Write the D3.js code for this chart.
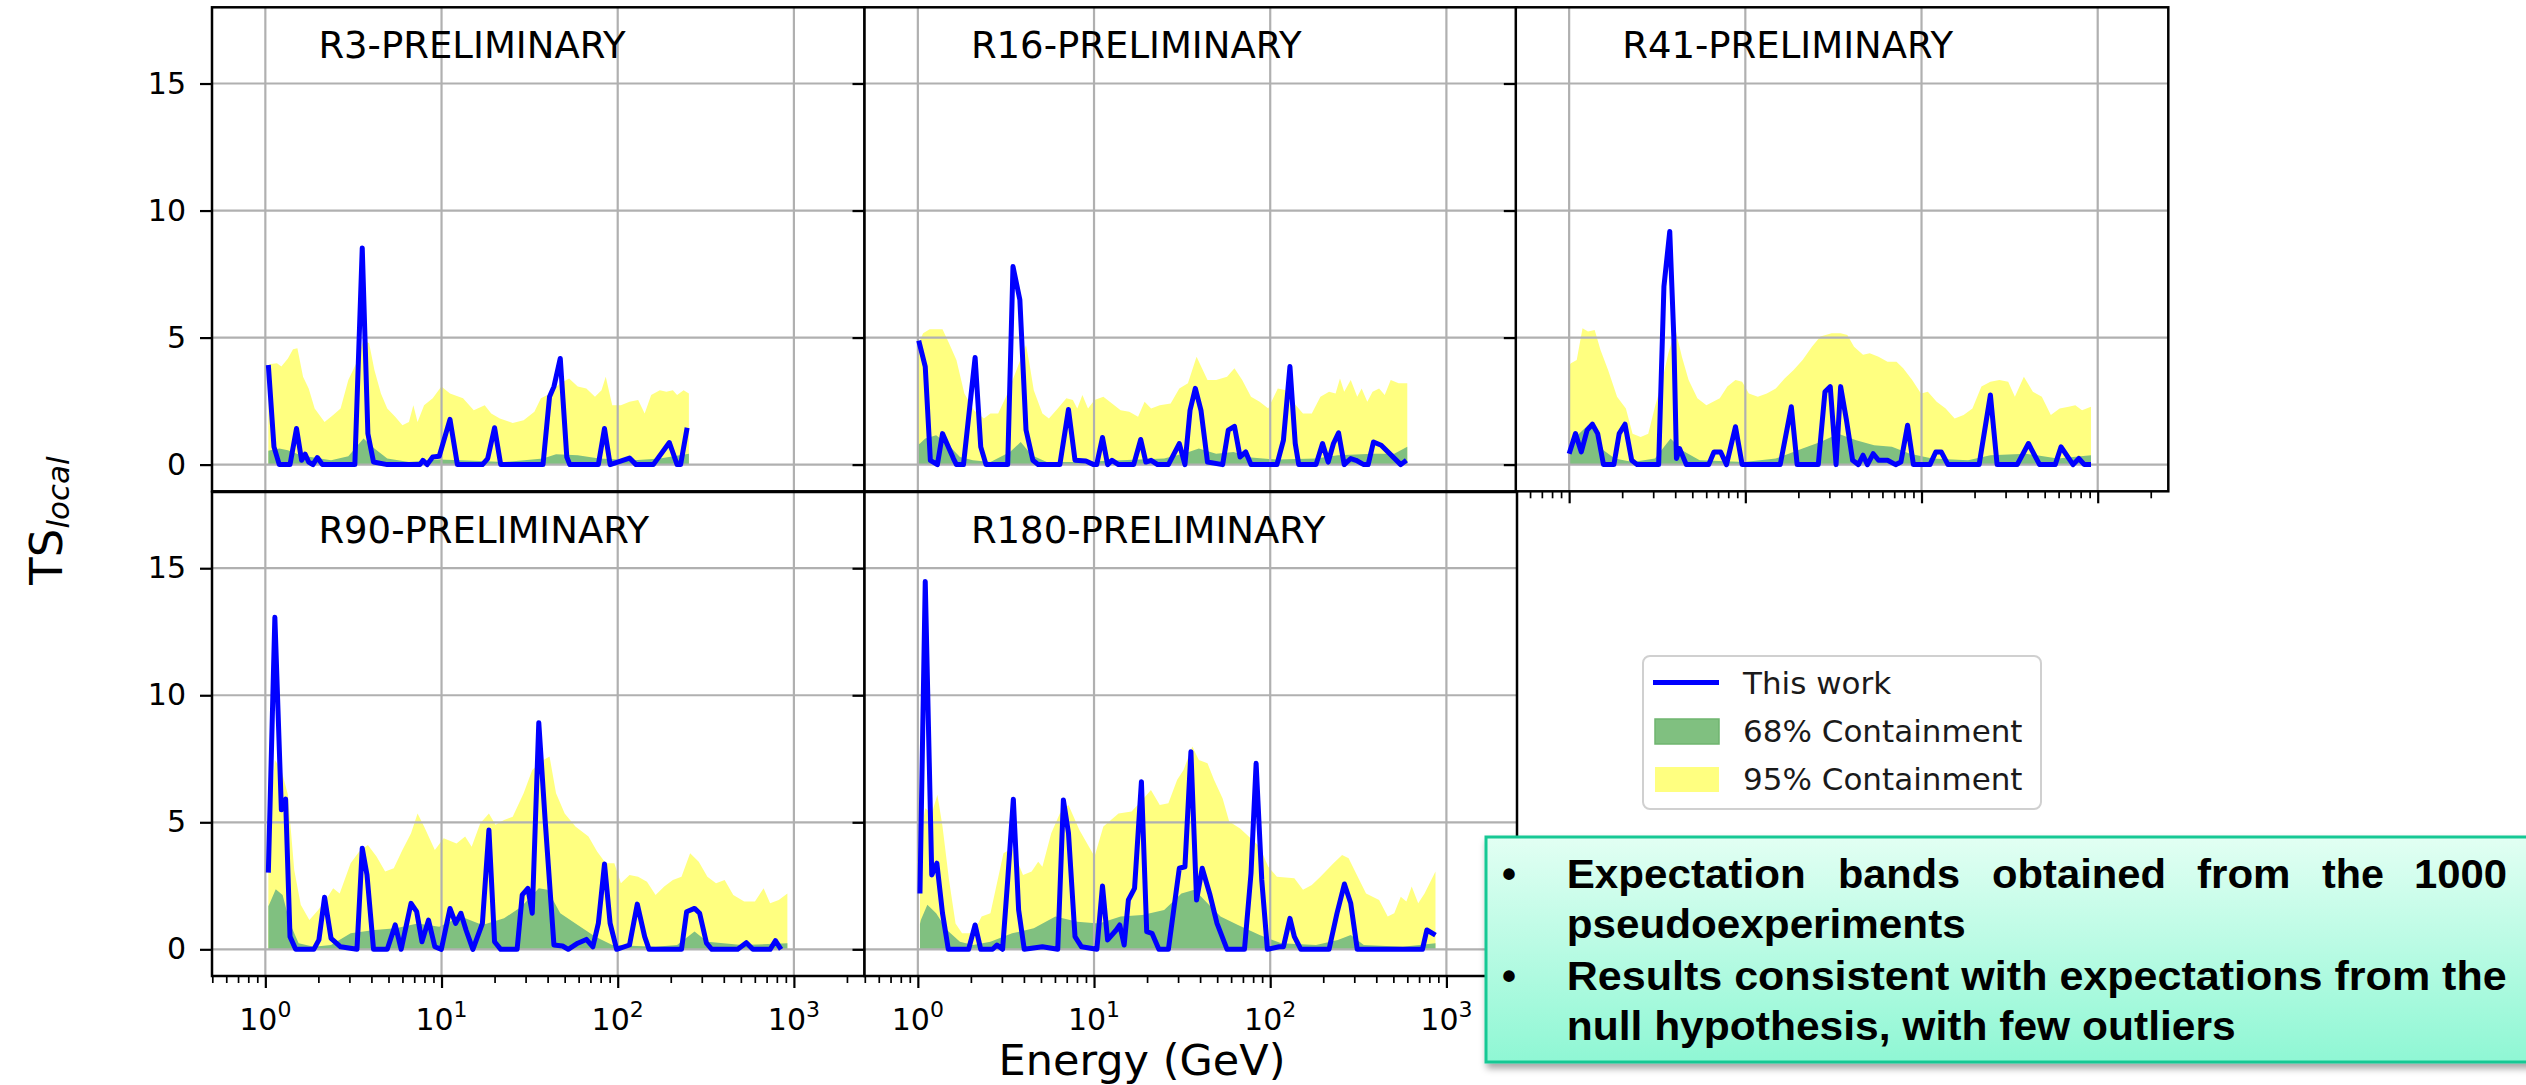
<!DOCTYPE html>
<html><head><meta charset="utf-8">
<script src="https://cdn.jsdelivr.net/npm/d3@7"></script>
<style>body{margin:0;background:#fff;}svg{display:block;}</style>
</head><body>
<svg id="chart" width="2526" height="1085"></svg>
<script>
// ---------------- DATA: [log10(E / GeV), TS_local] ----------------
const R3_ts = [[0.017,3.92],[0.049,0.70],[0.079,0],[0.140,0],[0.177,1.42],[0.206,0.17],[0.226,0.41],[0.246,0.1],[0.270,0],[0.295,0.28],[0.324,0],[0.508,0],[0.550,8.53],[0.582,1.22],[0.614,0.1],[0.692,0],[0.877,0],[0.894,0.17],[0.918,0],[0.950,0.3],[0.987,0.33],[1.048,1.78],[1.090,0],[1.232,0],[1.262,0.24],[1.301,1.45],[1.336,0],[1.576,0],[1.613,2.67],[1.638,3.07],[1.674,4.18],[1.711,0.3],[1.728,0],[1.890,0],[1.925,1.42],[1.957,0],[2.067,0.26],[2.104,0],[2.202,0],[2.293,0.87],[2.337,0],[2.357,0],[2.394,1.45]];
const R3_c95 = [[0.017,3.92],[0.029,3.96],[0.066,3.99],[0.091,3.86],[0.128,4.18],[0.157,4.54],[0.182,4.58],[0.214,3.46],[0.246,3.0],[0.28,2.21],[0.336,1.68],[0.385,1.95],[0.427,2.21],[0.471,3.33],[0.516,3.99],[0.557,4.91],[0.589,4.78],[0.619,3.72],[0.656,2.8],[0.692,2.21],[0.737,1.88],[0.778,1.55],[0.815,1.68],[0.84,2.34],[0.864,1.68],[0.901,2.34],[0.95,2.61],[0.999,3.07],[1.048,2.8],[1.122,2.61],[1.183,2.14],[1.245,2.34],[1.282,2.01],[1.331,1.82],[1.404,1.64],[1.466,1.75],[1.527,2.08],[1.564,2.61],[1.601,2.74],[1.674,3.2],[1.724,3.39],[1.773,3.07],[1.822,3.0],[1.871,2.67],[1.908,2.93],[1.932,3.46],[1.969,2.34],[2.018,2.34],[2.067,2.47],[2.116,2.54],[2.153,2.01],[2.19,2.74],[2.239,2.93],[2.276,2.87],[2.313,2.93],[2.337,2.74],[2.374,2.93],[2.404,2.8]];
const R3_c68 = [[0.017,0.55],[0.029,0.57],[0.079,0.63],[0.128,0.57],[0.201,0.37],[0.275,0.28],[0.373,0.17],[0.471,0.33],[0.557,1.03],[0.619,0.63],[0.692,0.24],[0.815,0.1],[0.987,0.2],[1.11,0.17],[1.355,0.1],[1.576,0.24],[1.65,0.41],[1.773,0.37],[1.895,0.24],[2.092,0.17],[2.239,0.24],[2.404,0.43]];

const R16_ts = [[0.005,4.88],[0.042,3.86],[0.071,0.17],[0.111,0],[0.140,1.22],[0.202,0.24],[0.219,0],[0.259,0],[0.325,4.22],[0.357,0.7],[0.387,0],[0.510,0],[0.540,7.8],[0.579,6.49],[0.614,1.36],[0.653,0.17],[0.683,0],[0.806,0],[0.855,2.17],[0.892,0.17],[0.954,0.14],[0.998,0],[1.015,0],[1.048,1.07],[1.077,0],[1.102,0.17],[1.139,0],[1.225,0],[1.265,0.99],[1.294,0.1],[1.324,0.17],[1.361,0],[1.422,0],[1.484,0.83],[1.516,0],[1.545,2.14],[1.575,3.0],[1.607,2.14],[1.644,0.1],[1.730,0],[1.762,1.36],[1.797,1.51],[1.829,0.3],[1.861,0.5],[1.891,0],[2.038,0],[2.075,0.96],[2.112,3.86],[2.142,0.83],[2.162,0],[2.260,0],[2.297,0.83],[2.329,0.1],[2.359,0.83],[2.388,1.25],[2.420,0],[2.457,0.24],[2.487,0.17],[2.531,0],[2.556,0],[2.586,0.89],[2.630,0.76],[2.741,0],[2.773,0.17]];
const R16_c95 = [[0.005,4.78],[0.03,5.17],[0.067,5.33],[0.14,5.33],[0.177,4.78],[0.219,4.12],[0.264,2.8],[0.318,2.14],[0.375,1.82],[0.412,2.01],[0.456,2.01],[0.505,2.74],[0.56,3.72],[0.614,4.71],[0.633,3.99],[0.658,2.93],[0.707,2.01],[0.744,1.82],[0.794,2.21],[0.843,2.61],[0.88,2.54],[0.905,2.21],[0.934,2.74],[0.966,2.21],[1.003,2.54],[1.053,2.67],[1.102,2.41],[1.151,2.14],[1.2,2.08],[1.25,1.88],[1.287,2.47],[1.324,2.21],[1.373,2.34],[1.435,2.41],[1.484,3.0],[1.533,3.2],[1.582,4.25],[1.644,3.33],[1.693,3.33],[1.755,3.46],[1.797,3.79],[1.841,3.33],[1.891,2.67],[1.94,2.47],[1.989,2.21],[2.043,3.0],[2.088,2.93],[2.137,2.41],[2.186,2.01],[2.236,2.01],[2.285,2.67],[2.334,2.87],[2.371,2.8],[2.396,3.39],[2.42,2.87],[2.457,3.33],[2.494,2.67],[2.519,3.0],[2.551,2.47],[2.581,2.87],[2.618,3.0],[2.65,2.74],[2.684,3.33],[2.729,3.2],[2.778,3.2]];
const R16_c68 = [[0.005,0.8],[0.012,0.83],[0.042,1.03],[0.104,1.16],[0.165,0.83],[0.239,0.3],[0.313,0.17],[0.412,0.1],[0.523,0.5],[0.584,0.89],[0.646,0.37],[0.732,0.1],[0.905,0.1],[1.151,0.17],[1.398,0.24],[1.521,0.46],[1.595,0.63],[1.693,0.43],[1.792,0.5],[1.891,0.28],[2.038,0.2],[2.26,0.24],[2.384,0.37],[2.581,0.43],[2.704,0.43],[2.778,0.7]];

const R41_ts = [[0,0.43],[0.036,1.22],[0.069,0.5],[0.102,1.36],[0.132,1.59],[0.162,1.22],[0.195,0],[0.254,0],[0.284,1.22],[0.317,1.59],[0.355,0.17],[0.386,0],[0.508,0],[0.538,7.01],[0.571,9.18],[0.594,5.04],[0.609,0.24],[0.627,0.63],[0.665,0],[0.792,0],[0.822,0.5],[0.86,0.5],[0.893,0],[0.944,1.49],[0.982,0],[1.198,0],[1.261,2.28],[1.294,0],[1.414,0],[1.452,2.87],[1.482,3.07],[1.515,0],[1.541,3.07],[1.574,1.75],[1.609,0.17],[1.642,0],[1.668,0.37],[1.693,0],[1.726,0.43],[1.756,0.17],[1.807,0.17],[1.853,0],[1.883,0.1],[1.921,1.55],[1.954,0],[2.048,0],[2.081,0.5],[2.112,0.5],[2.15,0],[2.327,0],[2.391,2.74],[2.429,0],[2.543,0],[2.607,0.83],[2.67,0],[2.759,0],[2.792,0.7],[2.86,0],[2.893,0.24],[2.924,0],[2.962,0]];
const R41_c95 = [[0,3.9],[0.01,3.99],[0.043,4.12],[0.076,5.37],[0.107,5.24],[0.145,5.3],[0.178,4.51],[0.221,3.72],[0.272,2.67],[0.322,2.21],[0.36,1.22],[0.406,1.09],[0.449,1.22],[0.487,2.28],[0.525,3.2],[0.563,4.38],[0.604,5.3],[0.64,4.25],[0.678,3.33],[0.728,2.61],[0.779,2.34],[0.817,2.47],[0.855,2.61],[0.898,3.07],[0.944,3.33],[0.982,3.26],[1.02,2.8],[1.071,2.67],[1.122,2.8],[1.173,3.0],[1.223,3.39],[1.274,3.72],[1.325,4.12],[1.378,4.64],[1.426,5.04],[1.49,5.17],[1.541,5.17],[1.579,5.1],[1.617,4.64],[1.668,4.32],[1.706,4.38],[1.756,4.25],[1.807,4.05],[1.858,4.05],[1.896,3.79],[1.947,3.33],[1.997,2.8],[2.036,2.87],[2.086,2.47],[2.137,2.21],[2.188,1.82],[2.239,1.95],[2.289,2.21],[2.34,3.07],[2.391,3.26],[2.442,3.33],[2.492,3.26],[2.53,2.67],[2.581,3.46],[2.632,2.87],[2.683,2.67],[2.734,1.95],[2.784,2.21],[2.835,2.28],[2.873,2.34],[2.911,2.14],[2.962,2.28]];
const R41_c68 = [[0,0.8],[0.01,0.83],[0.056,1.22],[0.107,1.55],[0.145,1.36],[0.195,0.57],[0.259,0.24],[0.36,0.1],[0.487,0.24],[0.576,1.03],[0.64,0.57],[0.741,0.17],[0.995,0.1],[1.173,0.24],[1.325,0.63],[1.426,0.89],[1.528,1.22],[1.629,0.96],[1.731,0.76],[1.832,0.7],[1.934,0.43],[2.061,0.24],[2.264,0.17],[2.391,0.37],[2.594,0.43],[2.772,0.24],[2.962,0.37]];

const R90_ts = [[0.017,3.02],[0.054,13.07],[0.091,5.49],[0.115,5.91],[0.14,0.5],[0.172,0],[0.275,0],[0.304,0.37],[0.336,2.05],[0.373,0.43],[0.427,0.1],[0.52,0],[0.55,3.98],[0.577,2.93],[0.614,0],[0.692,0],[0.737,0.96],[0.771,0],[0.827,1.81],[0.859,1.48],[0.889,0.3],[0.926,1.15],[0.962,0.1],[0.999,0],[1.048,1.61],[1.08,1.02],[1.11,1.42],[1.139,0.76],[1.178,0],[1.232,1.02],[1.269,4.7],[1.301,0.3],[1.336,0],[1.429,0],[1.458,2.14],[1.49,2.4],[1.515,1.42],[1.552,8.92],[1.588,5.09],[1.638,0.17],[1.687,0.13],[1.719,0],[1.773,0.24],[1.822,0.39],[1.859,0.1],[1.89,1.02],[1.925,3.36],[1.957,1.02],[1.994,0],[2.067,0.17],[2.111,1.78],[2.153,0.5],[2.178,0],[2.362,0],[2.391,1.48],[2.436,1.61],[2.465,1.42],[2.504,0.24],[2.534,0],[2.681,0],[2.73,0.26],[2.767,0],[2.865,0],[2.895,0.34],[2.927,0]];
const R90_c95 = [[0.017,4.5],[0.025,4.96],[0.054,7.45],[0.091,7.06],[0.128,6.08],[0.164,3.12],[0.201,1.75],[0.25,1.15],[0.3,1.55],[0.349,2.01],[0.385,2.4],[0.422,2.2],[0.484,3.39],[0.533,3.85],[0.582,4.11],[0.631,3.65],[0.68,3.06],[0.729,3.19],[0.778,3.91],[0.827,4.57],[0.864,5.35],[0.901,4.83],[0.962,3.91],[1.012,4.37],[1.085,4.17],[1.134,4.44],[1.171,4.04],[1.22,4.96],[1.269,5.35],[1.306,4.9],[1.355,5.09],[1.404,5.22],[1.466,6.14],[1.515,7.06],[1.564,7.39],[1.613,7.59],[1.65,6.14],[1.699,5.35],[1.76,4.83],[1.834,4.44],[1.883,3.85],[1.932,3.39],[1.981,3.39],[2.018,2.6],[2.067,2.93],[2.116,2.86],[2.166,2.66],[2.215,2.14],[2.264,2.47],[2.313,2.73],[2.362,2.86],[2.411,3.78],[2.46,3.45],[2.509,2.86],[2.558,2.6],[2.607,2.73],[2.656,2.14],[2.718,1.88],[2.779,1.88],[2.828,2.4],[2.865,1.81],[2.914,1.94],[2.963,2.2]];
const R90_c68 = [[0.017,1.7],[0.025,1.81],[0.059,2.36],[0.098,2.14],[0.14,1.02],[0.189,0.24],[0.275,0.1],[0.373,0.17],[0.484,0.63],[0.619,0.76],[0.741,0.83],[0.864,1.02],[0.987,0.89],[1.11,1.29],[1.232,0.96],[1.355,1.22],[1.453,1.68],[1.552,2.4],[1.601,2.34],[1.674,1.42],[1.773,0.96],[1.871,0.5],[1.969,0.17],[2.215,0.1],[2.337,0.17],[2.436,0.7],[2.509,0.3],[2.706,0.17],[2.963,0.24]];

const R180_ts = [[0.012,2.2],[0.042,14.48],[0.079,2.93],[0.108,3.39],[0.14,1.42],[0.173,0],[0.288,0],[0.325,0.96],[0.357,0],[0.424,0],[0.449,0.17],[0.481,0],[0.51,2.73],[0.542,5.91],[0.572,1.55],[0.604,0],[0.707,0.1],[0.794,0],[0.826,5.88],[0.855,4.57],[0.892,0.5],[0.929,0.1],[1.016,0],[1.048,2.49],[1.077,0.37],[1.126,0.76],[1.146,0.96],[1.171,0.17],[1.195,1.94],[1.23,2.4],[1.269,6.6],[1.299,0.7],[1.329,0.63],[1.368,0],[1.422,0],[1.484,3.19],[1.516,3.25],[1.55,7.78],[1.582,1.94],[1.614,3.19],[1.656,2.2],[1.698,1.02],[1.755,0],[1.854,0],[1.891,2.99],[1.92,7.32],[1.952,2.73],[1.984,0],[2.051,0.1],[2.075,0.1],[2.112,1.22],[2.137,0.5],[2.174,0],[2.334,0],[2.379,1.42],[2.421,2.57],[2.457,1.81],[2.494,0],[2.864,0],[2.889,0.76],[2.938,0.56]];
const R180_c95 = [[0.012,4.3],[0.042,5.55],[0.079,5.35],[0.111,6.08],[0.14,4.83],[0.177,2.73],[0.214,1.02],[0.251,0.63],[0.313,0.63],[0.362,1.29],[0.412,1.42],[0.486,3.78],[0.535,3.98],[0.597,2.93],[0.646,3.06],[0.683,3.45],[0.707,3.25],[0.757,4.57],[0.806,5.35],[0.855,5.68],[0.917,4.7],[1.003,3.65],[1.053,4.83],[1.139,5.35],[1.213,5.42],[1.274,5.88],[1.323,6.27],[1.373,5.68],[1.422,5.75],[1.472,6.67],[1.508,7.06],[1.558,7.98],[1.595,7.45],[1.644,7.32],[1.681,6.67],[1.73,5.94],[1.767,5.03],[1.829,4.76],[1.878,4.44],[1.94,4.04],[1.989,3.25],[2.038,2.86],[2.137,2.8],[2.186,2.34],[2.236,2.53],[2.285,2.86],[2.359,3.39],[2.408,3.71],[2.445,3.58],[2.482,3.06],[2.544,2.2],[2.618,1.94],[2.667,1.29],[2.704,1.42],[2.741,2.07],[2.773,1.88],[2.803,2.47],[2.84,1.81],[2.876,2.2],[2.938,3.06]];
const R180_c68 = [[0.012,1.0],[0.017,1.15],[0.054,1.75],[0.104,1.42],[0.165,0.76],[0.239,0.3],[0.313,0.17],[0.412,0.3],[0.535,0.63],[0.658,0.83],[0.781,1.29],[0.905,1.09],[1.028,1.02],[1.151,1.29],[1.274,1.35],[1.398,1.55],[1.496,2.2],[1.57,2.34],[1.644,1.81],[1.718,1.29],[1.817,0.96],[1.94,0.56],[2.063,0.24],[2.26,0.17],[2.384,0.37],[2.457,0.56],[2.531,0.17],[2.753,0.1],[2.938,0.24]];

const panelTitles = ["R3-PRELIMINARY","R16-PRELIMINARY","R41-PRELIMINARY","R90-PRELIMINARY","R180-PRELIMINARY"];
const yTicks = [0,5,10,15];
const xMajor = [1,10,100,1000];
const xMajorExp = ["0","1","2","3"];
const xMinor = [0.5,0.6,0.7,0.8,0.9,2,3,4,5,6,7,8,9,20,30,40,50,60,70,80,90,200,300,400,500,600,700,800,900,2000];
const legendLabels = ["This work","68% Containment","95% Containment"];
const yLabelMain = "TS", yLabelSub = "local";
const xLabel = "Energy (GeV)";
const noteLine1Words = ["Expectation","bands","obtained","from","the","1000"];
const noteLine2 = "pseudoexperiments";
const noteLine3 = "Results consistent with expectations from the";
const noteLine4 = "null hypothesis, with few outliers";

// ---------------- LAYOUT ----------------
const COL_X = [212, 864.5, 1515.8], PANEL_W = 652.5;
const ROW_Y = [7.3, 492], PANEL_H = 484;
const X_DOMAIN = [0.498, 2516], Y_DOMAIN = [-1.05, 18.0];
const C_LINE = "#0000ff", C68 = "#80c080", C95 = "#ffff80", C_GRID = "#b0b0b0";
const FONT = "'DejaVu Sans', sans-serif";

const panels = [
  {title:panelTitles[0], col:0,row:0, ts:R3_ts,  c68:R3_c68,  c95:R3_c95},
  {title:panelTitles[1], col:1,row:0, ts:R16_ts, c68:R16_c68, c95:R16_c95},
  {title:panelTitles[2], col:2,row:0, ts:R41_ts, c68:R41_c68, c95:R41_c95},
  {title:panelTitles[3], col:0,row:1, ts:R90_ts, c68:R90_c68, c95:R90_c95},
  {title:panelTitles[4], col:1,row:1, ts:R180_ts,c68:R180_c68,c95:R180_c95}
];

const svg = d3.select("#chart");
svg.append("rect").attr("width",2526).attr("height",1085).attr("fill","#fff");

panels.forEach(p => {
  const x0 = COL_X[p.col], y0 = ROW_Y[p.row];
  const x = d3.scaleLog().domain(X_DOMAIN).range([x0, x0 + PANEL_W]);
  const y = d3.scaleLinear().domain(Y_DOMAIN).range([y0 + PANEL_H, y0]);
  const g = svg.append("g");
  g.append("rect").attr("x",x0).attr("y",y0).attr("width",PANEL_W).attr("height",PANEL_H).attr("fill","#fff");

  const area = d3.area().x(d => x(10 ** d[0])).y0(y(0)).y1(d => y(d[1]));
  g.append("path").datum(p.c95).attr("d",area).attr("fill",C95);
  g.append("path").datum(p.c68).attr("d",area).attr("fill",C68);

  // grid
  g.selectAll(".gx").data(xMajor).join("line")
    .attr("x1",d=>x(d)).attr("x2",d=>x(d)).attr("y1",y0).attr("y2",y0+PANEL_H)
    .attr("stroke",C_GRID).attr("stroke-width",2.2);
  g.selectAll(".gy").data(yTicks).join("line")
    .attr("x1",x0).attr("x2",x0+PANEL_W).attr("y1",d=>y(d)).attr("y2",d=>y(d))
    .attr("stroke",C_GRID).attr("stroke-width",2.2);

  // line
  g.append("path").datum(p.ts)
    .attr("d", d3.line().x(d => x(10 ** d[0])).y(d => y(d[1])))
    .attr("fill","none").attr("stroke",C_LINE).attr("stroke-width",5)
    .attr("stroke-linejoin","round").attr("stroke-linecap","butt");

  // title
  g.append("text").attr("x",x(2)).attr("y",y(16)).text(p.title)
    .attr("font-family",FONT).attr("font-size",37).attr("fill","#000");

  // spines
  g.append("rect").attr("x",x0).attr("y",y0).attr("width",PANEL_W).attr("height",PANEL_H)
    .attr("fill","none").attr("stroke","#000").attr("stroke-width",2.5);

  // y axis
  const ya = g.append("g").attr("transform",`translate(${x0},0)`)
    .call(d3.axisLeft(y).tickValues(yTicks).tickSize(12).tickPadding(14)
      .tickFormat(p.col === 0 ? d3.format("d") : () => ""));
  ya.select(".domain").remove();
  ya.selectAll("line").attr("stroke","#000").attr("stroke-width",2.2);
  ya.selectAll("text").attr("font-family",FONT).attr("font-size",30).attr("fill","#000");

  // x axis (major + minor ticks)
  const xb = y0 + PANEL_H;
  const xa = g.append("g").attr("transform",`translate(0,${xb})`)
    .call(d3.axisBottom(x).tickValues(xMajor).tickSize(12).tickFormat(() => ""));
  xa.select(".domain").remove();
  xa.selectAll("line").attr("stroke","#000").attr("stroke-width",2.2);
  const xm = g.append("g").attr("transform",`translate(0,${xb})`)
    .call(d3.axisBottom(x).tickValues(xMinor).tickSize(7).tickFormat(() => ""));
  xm.select(".domain").remove();
  xm.selectAll("line").attr("stroke","#000").attr("stroke-width",1.7);

  if (p.row === 1) {
    xMajor.forEach((v,i) => {
      const t = g.append("text").attr("x",x(v)).attr("y",xb + 54)
        .attr("text-anchor","middle").attr("font-family",FONT).attr("font-size",30).attr("fill","#000");
      t.append("tspan").text("10");
      t.append("tspan").attr("dy",-13.5).attr("font-size",22).text(xMajorExp[i]);
    });
  }
});

// axis labels
svg.append("text").attr("x",1142).attr("y",1075).attr("text-anchor","middle")
  .attr("font-family",FONT).attr("font-size",43).attr("fill","#000").text(xLabel);
const yl = svg.append("text").attr("transform","translate(62,520.5) rotate(-90)")
  .attr("text-anchor","middle").attr("font-family",FONT).attr("font-size",45).attr("fill","#000");
yl.append("tspan").text(yLabelMain);
yl.append("tspan").attr("dy",6.5).attr("font-size",31).attr("font-style","italic").text(yLabelSub);

// legend
const lg = svg.append("g");
lg.append("rect").attr("x",1643).attr("y",656).attr("width",398).attr("height",153).attr("rx",7)
  .attr("fill","#fff").attr("stroke","#d0d0d0").attr("stroke-width",2);
lg.append("line").attr("x1",1653).attr("x2",1719).attr("y1",682.5).attr("y2",682.5)
  .attr("stroke",C_LINE).attr("stroke-width",5);
lg.append("rect").attr("x",1655).attr("y",719).attr("width",64).attr("height",25).attr("fill",C68)
  .attr("stroke","#6fb56f").attr("stroke-width",1.5);
lg.append("rect").attr("x",1655).attr("y",767).attr("width",64).attr("height",25).attr("fill",C95);
[694,742,790].forEach((yy,i) => {
  lg.append("text").attr("x",1743).attr("y",yy).text(legendLabels[i])
    .attr("font-family",FONT).attr("font-size",31).attr("fill","#1a1a1a");
});

// annotation box
const defs = svg.append("defs");
const grad = defs.append("linearGradient").attr("id","boxgrad").attr("x1",0).attr("y1",0).attr("x2",0).attr("y2",1);
grad.append("stop").attr("offset","0%").attr("stop-color","#e2fff3");
grad.append("stop").attr("offset","100%").attr("stop-color","#8ff7d4");
const flt = defs.append("filter").attr("id","shadow").attr("x","-5%").attr("y","-10%").attr("width","115%").attr("height","130%");
flt.append("feDropShadow").attr("dx",2).attr("dy",5).attr("stdDeviation",3.5)
  .attr("flood-color","#000").attr("flood-opacity",0.35);
const nb = svg.append("g");
nb.append("rect").attr("x",1486).attr("y",837).attr("width",1060).attr("height",225)
  .attr("fill","url(#boxgrad)").attr("stroke","#15c894").attr("stroke-width",3).attr("filter","url(#shadow)");
const BOLD = "'Liberation Sans', Arial, sans-serif";
const noteText = (xx, yy, s, len) => {
  const t = nb.append("text").attr("x",xx).attr("y",yy).text(s)
    .attr("font-family",BOLD).attr("font-weight","bold").attr("font-size",40).attr("fill","#000");
  if (len) t.attr("textLength",len).attr("lengthAdjust","spacingAndGlyphs");
  return t;
};
noteText(1502, 888, "•");
noteText(1502, 990, "•");
const w1x = [1566.7,1838,1992,2197,2322,2414], w1w = [239,122,174,93.5,62,93];
noteLine1Words.forEach((w,i) => noteText(w1x[i], 888, w, w1w[i]));
noteText(1566.7, 938, noteLine2, 399);
noteText(1566.7, 990, noteLine3, 940);
noteText(1566.7, 1040, noteLine4, 669);
</script>
</body></html>
